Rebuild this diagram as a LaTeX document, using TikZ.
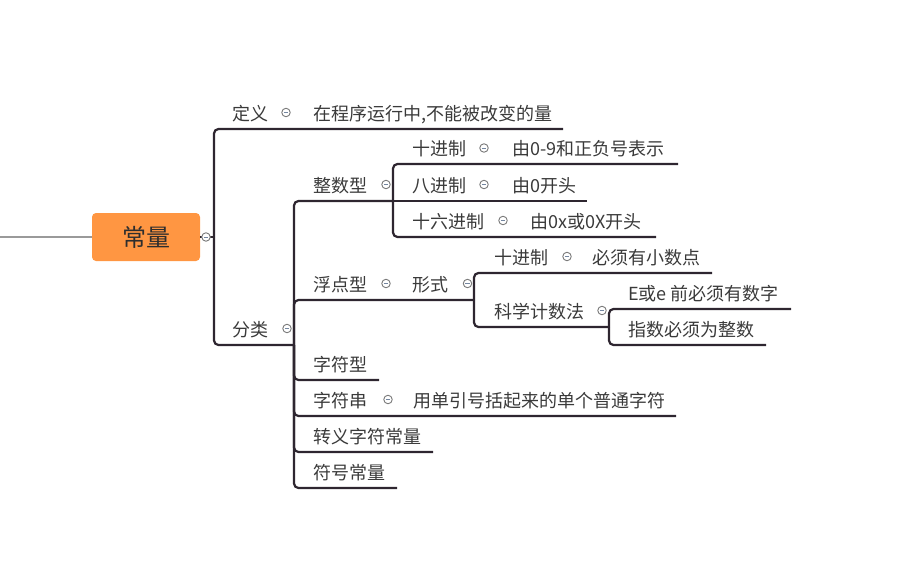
\documentclass[tikz,border=0pt]{standalone}
\usepackage{fontspec}
\setmainfont{Noto Sans CJK SC}
\definecolor{linec}{HTML}{2E2630}
\definecolor{textc}{HTML}{3A3A3A}
\definecolor{foldc}{HTML}{7A7A7A}
\definecolor{minusc}{HTML}{7486A0}
\definecolor{rootc}{HTML}{FF9642}
\definecolor{leftc}{HTML}{9A9A9A}
\begin{document}
\begin{tikzpicture}[x=1pt,y=-1pt,
  txt/.style={anchor=base west, inner sep=0pt, font=\fontsize{18pt}{22pt}\selectfont, text=textc},
  conn/.style={draw=linec, line width=2.2pt, rounded corners=4.5pt},
  fold/.style={circle, draw=foldc, fill=white, line width=0.9pt, minimum size=8.5pt, inner sep=0pt,
    path picture={\draw[minusc, line width=0.9pt] ([xshift=-2.2pt]path picture bounding box.center) -- ([xshift=2.2pt]path picture bounding box.center);}},
  rootbox/.style={fill=rootc, rounded corners=4pt, minimum width=108pt, minimum height=48pt, inner sep=0pt,
    font=\fontsize{24pt}{28pt}\selectfont, text=textc!80!black},
]
\useasboundingbox (0,0) rectangle (910,562);

% root
\node[rootbox] (root) at (146,237) {常量};
\coordinate (lft) at (0,237);
\draw[leftc, line width=1.8pt] (lft) -- (root.west);

% junctions and underline ends
\coordinate (j0) at (214,237);
\coordinate (j1) at (294,345);
\coordinate (j2) at (393,201);
\coordinate (j3) at (474,300);
\coordinate (j4) at (609,327);
\coordinate (eDef) at (563,129);
\coordinate (eDec) at (678,164);
\coordinate (eOct) at (587,201);
\coordinate (eHex) at (656,237);
\coordinate (eFdec) at (712,273);
\coordinate (eE) at (791,309);
\coordinate (eExp) at (766,345);
\coordinate (eChr) at (379,380);
\coordinate (eStr) at (676,416);
\coordinate (eEsc) at (433,452);
\coordinate (eSym) at (397,488);

% connectors
\draw[conn] (root.east) -- (j0);
\draw[conn] (j0) |- (eDef);
\draw[conn] (j0) |- (j1);
\draw[conn] (j1) |- (j2);
\draw[conn] (j2) |- (eDec);
\draw[conn] (j2) -- (eOct);
\draw[conn] (j2) |- (eHex);
\draw[conn] (j1) |- (j3);
\draw[conn] (j3) |- (eFdec);
\draw[conn] (j3) |- (j4);
\draw[conn] (j4) |- (eE);
\draw[conn] (j4) |- (eExp);
\draw[conn] (j1) |- (eChr);
\draw[conn] (j1) |- (eStr);
\draw[conn] (j1) |- (eEsc);
\draw[conn] (j1) |- (eSym);

% texts
\node[txt] (def) at (232,120) {定义};
\node[txt] (defC) at (313,120) {在程序运行中,不能被改变的量};
\node[txt] (cls) at (232,336) {分类};
\node[txt] (int) at (313,192) {整数型};
\node[txt] (dec) at (412,155) {十进制};
\node[txt] (decC) at (512,155) {由0-9和正负号表示};
\node[txt] (oct) at (412,192) {八进制};
\node[txt] (octC) at (512,192) {由0开头};
\node[txt] (hex) at (412,228) {十六进制};
\node[txt] (hexC) at (530,228) {由0x或0X开头};
\node[txt] (flt) at (313,291) {浮点型};
\node[txt] (form) at (412,291) {形式};
\node[txt] (fdec) at (494,264) {十进制};
\node[txt] (fdecC) at (592,264) {必须有小数点};
\node[txt] (sci) at (494,318) {科学计数法};
\node[txt] (sciE) at (628,300) {E或e 前必须有数字};
\node[txt] (sciX) at (628,336) {指数必须为整数};
\node[txt] (chr) at (313,371) {字符型};
\node[txt] (str) at (313,407) {字符串};
\node[txt] (strC) at (413,407) {用单引号括起来的单个普通字符};
\node[txt] (esc) at (313,443) {转义字符常量};
\node[txt] (sym) at (313,479) {符号常量};

% fold markers
\node[fold] (f0) at (206,237) {};
\node[fold] (fDef) at (286,112.5) {};
\node[fold] (fCls) at (287,328.5) {};
\node[fold] (fInt) at (386,184.5) {};
\node[fold] (fDec) at (484,148) {};
\node[fold] (fOct) at (484,184.5) {};
\node[fold] (fHex) at (503,220.5) {};
\node[fold] (fFlt) at (386,283.5) {};
\node[fold] (fForm) at (467.5,283.5) {};
\node[fold] (fFdec) at (567,256.5) {};
\node[fold] (fSci) at (602,310.5) {};
\node[fold] (fStr) at (388,399.5) {};
\end{tikzpicture}
\end{document}
